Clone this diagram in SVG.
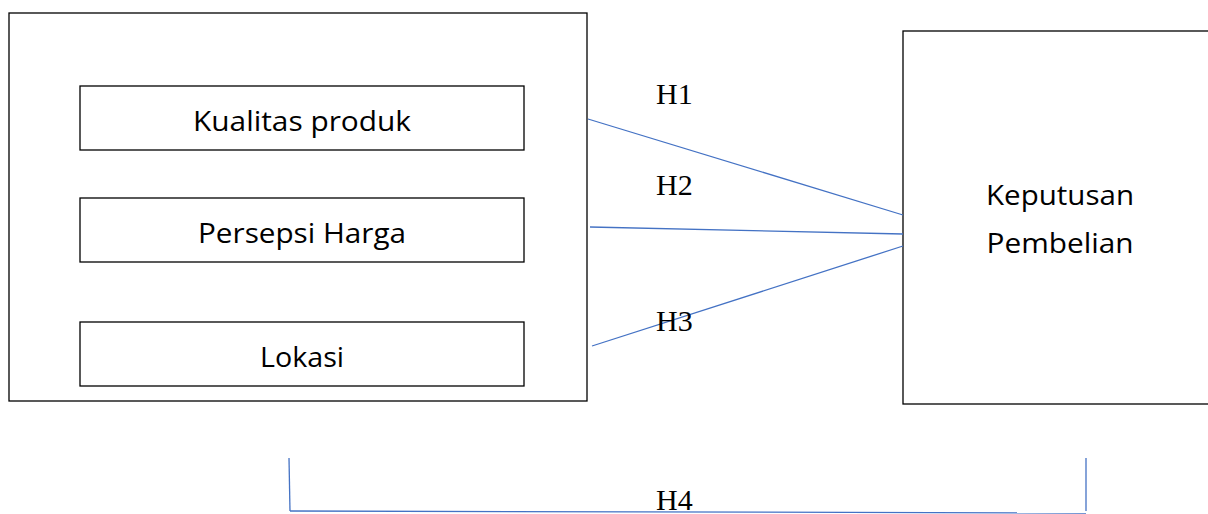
<svg xmlns="http://www.w3.org/2000/svg" width="1208" height="514" viewBox="0 0 1208 514">
<style>
.box{fill:#fff;stroke:#000;stroke-width:1.3}
.lbl{font-family:"Open Sans","Noto Sans",sans-serif;font-size:28px;fill:#000;text-anchor:middle}
.h{font-family:"Liberation Serif",serif;font-size:30px;fill:#000}
.con{stroke:#4472C4;stroke-width:1.3;fill:none}
</style>
<rect width="1208" height="514" fill="#fff"/>
<g id="group-left">
<rect class="box" x="9" y="13" width="578" height="388"/>
</g>
<g id="node-kualitas">
<rect class="box" x="80" y="86" width="444" height="64"/>
<text class="lbl" x="302" y="131" textLength="218" lengthAdjust="spacingAndGlyphs">Kualitas produk</text>
</g>
<g id="node-harga">
<rect class="box" x="80" y="198" width="444" height="64"/>
<text class="lbl" x="302" y="243" textLength="208" lengthAdjust="spacingAndGlyphs">Persepsi Harga</text>
</g>
<g id="node-lokasi">
<rect class="box" x="80" y="322" width="444" height="64"/>
<text class="lbl" x="302" y="367" textLength="84" lengthAdjust="spacingAndGlyphs">Lokasi</text>
</g>
<g id="node-keputusan">
<rect class="box" x="903" y="31" width="310" height="373"/>
<text class="lbl" x="1060" y="205" textLength="148" lengthAdjust="spacingAndGlyphs">Keputusan</text>
<text class="lbl" x="1060" y="253" textLength="147" lengthAdjust="spacingAndGlyphs">Pembelian</text>
</g>
<g id="connectors">
<line class="con" x1="588" y1="119" x2="903" y2="215"/>
<line class="con" x1="590" y1="227" x2="903" y2="234"/>
<line class="con" x1="592" y1="346" x2="903" y2="246"/>
<line class="con" x1="289" y1="458" x2="290" y2="511"/>
<line class="con" x1="1086" y1="458" x2="1086" y2="511"/>
<line class="con" x1="290" y1="511" x2="1086" y2="513"/>
<text class="h" x="656" y="104">H1</text>
<text class="h" x="656" y="195">H2</text>
<text class="h" x="656" y="331">H3</text>
<text class="h" x="656" y="510">H4</text>
</g>
</svg>
